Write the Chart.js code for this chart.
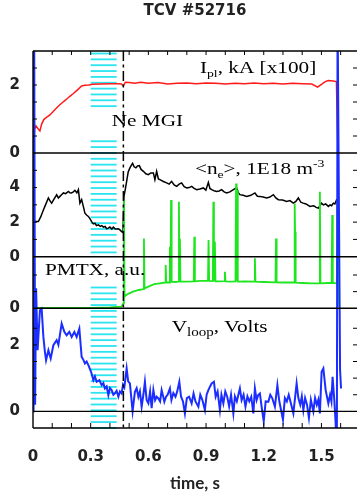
<!DOCTYPE html>
<html>
<head>
<meta charset="utf-8">
<script src="https://cdn.jsdelivr.net/npm/chart.js@4.4.1/dist/chart.umd.min.js"></script>
<style>
  html, body { margin: 0; padding: 0; background: #fff; }
</style>
</head>
<body>
<canvas id="tcv" width="357" height="500"></canvas>
<script>
// tick labels
const timeTicks = [0, 0.3, 0.6, 0.9, 1.2, 1.5];
const ipTicks = [0, 2];
const neTicks = [0, 2, 4];
const pmtxTicks = [0];
const vloopTicks = [0, 2];

// events (s)
const puffStart = 0.30, puffEnd = 0.435;  // cyan band
const mgiTime = 0.47;                      // Ne MGI trigger

// Ip, kA x100
const ipTime = [
  0, 0.004, 0.008, 0.015, 0.025, 0.036, 0.045, 0.057, 0.07, 0.088,
  0.11, 0.13, 0.15, 0.17, 0.19, 0.21, 0.23, 0.253, 0.27, 0.29,
  0.31, 0.35, 0.4, 0.44, 0.46, 0.47, 0.48, 0.5, 0.53, 0.56,
  0.6, 0.65, 0.7, 0.75, 0.8, 0.85, 0.9, 0.95, 1.0, 1.05,
  1.1, 1.15, 1.2, 1.25, 1.3, 1.35, 1.4, 1.45, 1.48, 1.5,
  1.52, 1.535, 1.56, 1.578, 1.582, 1.586
];
const ipValue = [
  0, 0.3, 0.7, 0.8, 0.72, 0.65, 0.85, 0.99, 1.05, 1.12,
  1.25, 1.37, 1.47, 1.56, 1.66, 1.75, 1.85, 1.97, 1.99, 2.0,
  2.02, 2.03, 2.04, 2.04, 2.03, 1.97, 2.08, 2.07, 2.05, 2.08,
  2.05, 2.07, 2.03, 2.05, 2.06, 2.04, 2.06, 2.05, 2.03, 2.05,
  2.04, 2.06, 2.04, 2.05, 2.03, 2.05, 2.04, 2.03, 1.94, 2.02,
  2.1, 2.13, 2.12, 2.1, 1.0, 0
];

// <ne>, 1E18 m-3
const neTime = [
  0, 0.005, 0.028, 0.04, 0.054, 0.065, 0.08, 0.09, 0.097, 0.11,
  0.123, 0.132, 0.14, 0.15, 0.158, 0.17, 0.184, 0.192, 0.2, 0.21,
  0.218, 0.228, 0.236, 0.244, 0.253, 0.262, 0.27, 0.28, 0.288, 0.296,
  0.305, 0.314, 0.322, 0.33, 0.34, 0.35, 0.358, 0.366, 0.375, 0.383,
  0.392, 0.4, 0.41, 0.418, 0.427, 0.435, 0.444, 0.452, 0.461, 0.468,
  0.473, 0.48, 0.487, 0.495, 0.504, 0.512, 0.518, 0.526, 0.535, 0.544,
  0.553, 0.562, 0.574, 0.587, 0.6, 0.613, 0.626, 0.634, 0.643, 0.652,
  0.66, 0.678, 0.695, 0.708, 0.721, 0.734, 0.747, 0.76, 0.773, 0.786,
  0.8, 0.812, 0.825, 0.838, 0.851, 0.868, 0.886, 0.899, 0.912, 0.92,
  0.929, 0.942, 0.955, 0.968, 0.981, 0.994, 1.007, 1.024, 1.042, 1.059,
  1.068, 1.076, 1.093, 1.111, 1.133, 1.154, 1.167, 1.18, 1.197, 1.215,
  1.232, 1.25, 1.263, 1.276, 1.298, 1.319, 1.336, 1.354, 1.367, 1.38,
  1.393, 1.405, 1.42, 1.44, 1.46, 1.472, 1.484, 1.492, 1.5, 1.51,
  1.522, 1.536, 1.545, 1.553, 1.562, 1.57, 1.579, 1.583, 1.586
];
const neValue = [
  0, 2.03, 2.03, 2.3, 2.7, 3.0, 3.4, 3.2, 3.1, 3.35,
  3.58, 3.4, 3.49, 3.6, 3.69, 3.65, 3.78, 3.7, 3.69, 3.75,
  3.84, 3.7, 3.88, 3.1, 3.3, 2.9, 2.52, 2.4, 2.33, 2.2,
  2.03, 1.9, 1.94, 1.8, 1.84, 1.75, 1.8, 1.71, 1.75, 1.62,
  1.65, 1.72, 1.6, 1.71, 1.62, 1.6, 1.62, 1.55, 1.45, 1.4,
  3.49, 3.9, 4.36, 4.9, 5.14, 5.3, 5.4, 5.2, 5.14, 5.25,
  5.27, 5.05, 4.94, 4.8, 4.75, 4.85, 4.85, 4.46, 4.94, 4.5,
  4.46, 4.35, 4.27, 4.2, 4.36, 4.15, 4.07, 4.2, 4.27, 4.05,
  3.98, 4.0, 4.07, 3.95, 3.88, 3.92, 3.98, 3.85, 4.3, 3.95,
  3.88, 3.82, 3.78, 3.8, 3.88, 3.75, 3.69, 3.75, 3.88, 3.98,
  3.7, 3.59, 3.55, 3.49, 3.55, 3.69, 3.5, 3.49, 3.45, 3.4,
  3.45, 3.59, 3.4, 3.3, 3.28, 3.2, 3.25, 3.1, 3.2, 3.4,
  3.15, 3.1, 3.05, 2.91, 2.95, 2.85, 2.81, 2.95, 3.1, 3.0,
  3.05, 2.91, 3.0, 2.95, 3.1, 3.05, 3.3, 3.3, 0
];

// PMTX, a.u.
const pmtxTime = [
  0, 0.1, 0.2, 0.3, 0.4, 0.46, 0.47, 0.473, 0.476, 0.48,
  0.5, 0.52, 0.55, 0.574, 0.577, 0.58, 0.6, 0.63, 0.66, 0.687,
  0.69, 0.693, 0.709, 0.712, 0.715, 0.718, 0.721, 0.74, 0.756, 0.759,
  0.762, 0.764, 0.767, 0.8, 0.836, 0.839, 0.842, 0.87, 0.91, 0.913,
  0.916, 0.935, 0.938, 0.941, 0.946, 0.949, 0.97, 0.995, 0.998, 1.001,
  1.03, 1.053, 1.056, 1.059, 1.062, 1.065, 1.1, 1.151, 1.154, 1.157,
  1.2, 1.261, 1.264, 1.267, 1.3, 1.358, 1.361, 1.363, 1.366, 1.4,
  1.45, 1.489, 1.492, 1.495, 1.53, 1.553, 1.556, 1.559, 1.58, 1.584,
  1.587
];
const pmtxValue = [
  0.02, 0.03, 0.02, 0.03, 0.05, 0.1, 0.3, 6.5, 0.7, 0.75,
  0.9, 1.0, 1.1, 1.15, 4.2, 1.2, 1.3, 1.45, 1.5, 1.55,
  2.6, 1.55, 1.55, 3.7, 1.55, 6.5, 1.6, 1.58, 1.6, 6.4,
  1.6, 4.2, 1.6, 1.6, 1.62, 4.3, 1.62, 1.65, 1.65, 4.1,
  1.64, 1.63, 6.4, 1.63, 4.0, 1.62, 1.62, 1.63, 2.2, 1.62,
  1.6, 1.62, 7.5, 1.62, 7.1, 1.6, 1.62, 1.6, 3.0, 1.6,
  1.58, 1.56, 4.2, 1.56, 1.55, 1.55, 6.3, 4.6, 1.54, 1.52,
  1.5, 1.5, 7.0, 1.5, 1.52, 1.52, 5.6, 1.52, 1.5, 6.5,
  0.1
];

// Vloop, Volts
const vloopTime = [
  0, 0.003, 0.006, 0.011, 0.016, 0.024, 0.036, 0.045, 0.054, 0.062,
  0.068, 0.08, 0.092, 0.106, 0.123, 0.132, 0.149, 0.163, 0.175, 0.189,
  0.201, 0.215, 0.227, 0.241, 0.253, 0.262, 0.27, 0.279, 0.288, 0.302,
  0.314, 0.322, 0.331, 0.345, 0.357, 0.366, 0.374, 0.383, 0.392, 0.4,
  0.409, 0.418, 0.426, 0.435, 0.444, 0.452, 0.461, 0.468, 0.475, 0.487,
  0.495, 0.504, 0.518, 0.53, 0.539, 0.548, 0.556, 0.565, 0.574, 0.582,
  0.591, 0.6, 0.609, 0.617, 0.626, 0.635, 0.643, 0.652, 0.661, 0.669,
  0.677, 0.683, 0.692, 0.7, 0.712, 0.72, 0.73, 0.741, 0.75, 0.761,
  0.77, 0.78, 0.79, 0.8, 0.812, 0.825, 0.835, 0.845, 0.86, 0.87,
  0.881, 0.894, 0.903, 0.912, 0.921, 0.929, 0.941, 0.95, 0.96, 0.972,
  0.98, 0.99, 1.0, 1.01, 1.02, 1.03, 1.042, 1.05, 1.06, 1.068,
  1.076, 1.085, 1.095, 1.105, 1.115, 1.125, 1.135, 1.146, 1.154, 1.163,
  1.172, 1.18, 1.19, 1.2, 1.21, 1.224, 1.234, 1.244, 1.258, 1.271,
  1.28, 1.29, 1.3, 1.31, 1.32, 1.33, 1.343, 1.354, 1.371, 1.38,
  1.39, 1.398, 1.406, 1.415, 1.425, 1.435, 1.445, 1.458, 1.467, 1.476,
  1.484, 1.492, 1.501, 1.51, 1.522, 1.536, 1.545, 1.552, 1.558, 1.567,
  1.574, 1.58, 1.584, 1.597, 1.602
];
const vloopValue = [
  0, 12, 12, 0.2, 3.7, 1.84, 3.04, 3.09, 2.24, 1.79,
  1.54, 1.84, 1.59, 1.99, 2.14, 2.0, 2.64, 2.39, 2.29, 2.39,
  2.24, 2.39, 2.24, 2.49, 1.64, 1.55, 1.44, 1.5, 1.39, 1.19,
  0.94, 1.05, 0.89, 0.94, 0.79, 0.85, 0.69, 0.75, 0.49, 0.7,
  0.64, 0.5, 0.54, 0.62, 0.44, 0.6, 0.54, 0.8, 0.72, 1.29,
  0.9, 0.84, 0.0, 0.59, 0.7, 0.44, 0.6, 0.14, 0.5, 0.89,
  0.34, 0.24, 0.6, 0.1, 0.64, 0.34, 0.44, 0.39, 0.3, 0.64,
  0.45, 0.29, 0.44, 0.5, 0.69, 0.34, 0.55, 0.44, 0.6, 0.89,
  0.44, 0.3, -0.06, 0.4, 0.44, 0.24, 0.54, 0.3, 0.14, 0.5,
  0.34, 0.04, 0.5, 0.64, 0.75, 0.84, 0.89, 0.44, 0.6, 0.04,
  0.5, 0.24, 0.6, 0.44, 0.15, 0.5, -0.06, 0.45, 0.3, 0.5,
  0.69, 0.34, 0.5, 0.14, 0.45, 0.3, 0.44, -0.06, 0.69, 0.34,
  0.5, 0.54, 0.09, -0.3, 0.3, 0.29, 0.5, 0.4, 0.14, 0.79,
  0.34, 0.04, -0.25, 0.4, 0.3, 0.5, 0.2, -0.06, 0.84, 0.4,
  0.2, 0.45, 0.04, 0.4, 0.2, -0.2, 0.35, 0.0, 0.4, 0.2,
  0.35, -0.06, 1.19, 1.29, 0.64, 0.24, 0.5, 0.3, 1.04, 0.34,
  -0.36, -2, 12, 1.24, 0.69
];

function pairs(xs, ys) {
  return xs.map((t, i) => ({ x: t, y: ys[i] }));
}

const tickFont = { family: 'DejaVu Sans', weight: 'bold', size: 15 };

function panelAxis(ticks, min, max, height, order) {
  return {
    type: 'linear',
    position: 'left',
    stack: 'panels',
    stackWeight: height,
    weight: order,
    min: min,
    max: max,
    grid: { display: false },
    border: { display: false },
    ticks: { font: tickFont, color: '#222', padding: 5, autoSkip: false },
    afterBuildTicks: scale => { scale.ticks = ticks.map(v => ({ value: v })); },
    afterFit: scale => { scale.width = 33; }
  };
}

// text with sub/superscripts, drawn a bit stretched like the original
function drawLabel(ctx, parts, x, y) {
  ctx.save();
  ctx.translate(x, y);
  ctx.scale(1.25, 1);
  ctx.fillStyle = '#000';
  ctx.textBaseline = 'alphabetic';
  let cx = 0;
  parts.forEach(p => {
    ctx.font = (p.size || 17) + 'px "Liberation Serif"';
    ctx.fillText(p.t, cx, p.dy || 0);
    cx += ctx.measureText(p.t).width;
  });
  ctx.restore();
}

const decor = {
  id: 'decor',
  beforeDatasetsDraw(chart) {
    const { ctx, chartArea: a, scales } = chart;
    const x0 = scales.x.getPixelForValue(puffStart);
    const x1 = scales.x.getPixelForValue(puffEnd);
    const gaps = [
      [scales.yI.getPixelForValue(1.35), scales.yI.getPixelForValue(0.45)],
      [scales.yP.top, scales.yP.getPixelForValue(1.28)]
    ];
    ctx.save();
    ctx.strokeStyle = '#2ae4f0';
    ctx.lineWidth = 1.8;
    for (let y = a.top + 2.5; y < a.bottom; y += 5.85) {
      if (gaps.some(g => y > g[0] && y < g[1])) continue;
      ctx.beginPath();
      ctx.moveTo(x0, y);
      ctx.lineTo(x1, y);
      ctx.stroke();
    }
    ctx.restore();
  },
  afterDatasetsDraw(chart) {
    const { ctx, chartArea: a, scales } = chart;
    ctx.save();
    ctx.strokeStyle = '#000';
    ctx.lineWidth = 1.4;

    // frame + panel separators
    const seps = [a.top, scales.yI.bottom, scales.yN.bottom, scales.yP.bottom,
      scales.yV.getPixelForValue(0), a.bottom];
    seps.forEach(y => {
      ctx.beginPath(); ctx.moveTo(a.left, y); ctx.lineTo(a.right, y); ctx.stroke();
    });
    ctx.beginPath(); ctx.moveTo(a.left, a.top); ctx.lineTo(a.left, a.bottom); ctx.stroke();

    // minor ticks
    ctx.lineWidth = 1;
    [['yI', 0.5], ['yN', 1], ['yP', 1], ['yV', 0.5]].forEach(([id, step]) => {
      const s = scales[id];
      for (let v = Math.ceil((s.min + 1e-9) / step) * step; v <= s.max - step / 2; v += step) {
        if (Math.abs(v) < 1e-9) continue;
        const y = s.getPixelForValue(v);
        ctx.beginPath();
        ctx.moveTo(a.left, y); ctx.lineTo(a.left + 4, y);
        ctx.moveTo(a.right - 4, y); ctx.lineTo(a.right, y);
        ctx.stroke();
      }
    });
    for (let k = 1; k * 0.1 < scales.x.max; k++) {
      const x = scales.x.getPixelForValue(k * 0.1);
      ctx.beginPath();
      ctx.moveTo(x, a.top); ctx.lineTo(x, a.top + 4);
      ctx.moveTo(x, a.bottom); ctx.lineTo(x, a.bottom - 5);
      ctx.stroke();
    }

    // MGI trigger
    const xm = scales.x.getPixelForValue(mgiTime);
    ctx.lineWidth = 1.5;
    ctx.setLineDash([10, 3.5, 3, 3.5]);
    ctx.beginPath(); ctx.moveTo(xm, a.top); ctx.lineTo(xm, a.bottom); ctx.stroke();
    ctx.restore();

    const X = t => scales.x.getPixelForValue(t);
    drawLabel(ctx, [{ t: 'I' }, { t: 'pl', size: 11, dy: 4 }, { t: ', kA [x100]' }],
      X(0.868), scales.yI.getPixelForValue(2.36));
    drawLabel(ctx, [{ t: 'Ne MGI' }], X(0.409), scales.yI.getPixelForValue(0.8));
    drawLabel(ctx, [{ t: '<n' }, { t: 'e', size: 11, dy: 4 }, { t: '>, 1E18 m' }, { t: '-3', size: 11, dy: -7 }],
      X(0.842), scales.yN.getPixelForValue(4.81));
    drawLabel(ctx, [{ t: 'PMTX, a.u.' }], X(0.062), scales.yP.getPixelForValue(2.0));
    drawLabel(ctx, [{ t: 'V' }, { t: 'loop', size: 12, dy: 4 }, { t: ', Volts' }],
      X(0.721), scales.yV.getPixelForValue(2.39));
  }
};

new Chart(document.getElementById('tcv'), {
  type: 'line',
  data: {
    datasets: [
      { label: 'Vloop', data: pairs(vloopTime, vloopValue), yAxisID: 'yV',
        borderColor: '#1b2dff', borderWidth: 2, order: 0 },
      { label: 'PMTX', data: pairs(pmtxTime, pmtxValue), yAxisID: 'yP',
        borderColor: '#1ee61e', borderWidth: 1.8, order: 1 },
      { label: 'Ip', data: pairs(ipTime, ipValue), yAxisID: 'yI',
        borderColor: '#ff1a1a', borderWidth: 1.5, order: 2 },
      { label: 'ne', data: pairs(neTime, neValue), yAxisID: 'yN',
        borderColor: '#000', borderWidth: 1.5, order: 3 }
    ]
  },
  options: {
    responsive: false,
    animation: false,
    elements: { point: { radius: 0 }, line: { tension: 0 } },
    layout: { padding: 0 },
    plugins: {
      legend: { display: false },
      tooltip: { enabled: false },
      title: {
        display: true,
        text: 'TCV #52716',
        fullSize: false,
        color: '#222',
        font: tickFont,
        padding: { top: 2, bottom: 31 }
      }
    },
    scales: {
      x: {
        type: 'linear',
        position: 'bottom',
        min: 0,
        max: 1.685,
        grid: { display: false },
        border: { display: false },
        ticks: { font: tickFont, color: '#222', padding: 12, autoSkip: false, maxRotation: 0,
          callback: v => String(v) },
        afterBuildTicks: scale => { scale.ticks = timeTicks.map(v => ({ value: v })); },
        afterFit: scale => { scale.height = 72; },
        title: { display: true, text: 'time, s', color: '#222',
          font: { family: 'Lato', weight: 'bold', size: 17 }, padding: { top: 0, bottom: 6 } }
      },
      yV: Object.assign(panelAxis(vloopTicks, -0.5, 3.1, 119.7, 1), { clip: false }),
      yP: Object.assign(panelAxis(pmtxTicks, 0, 3.1, 51.6, 2), { clip: false }),
      yN: panelAxis(neTicks, 0, 6, 103.7, 3),
      yI: panelAxis(ipTicks, 0, 3, 102, 4)
    }
  },
  plugins: [decor]
});
</script>
</body>
</html>
